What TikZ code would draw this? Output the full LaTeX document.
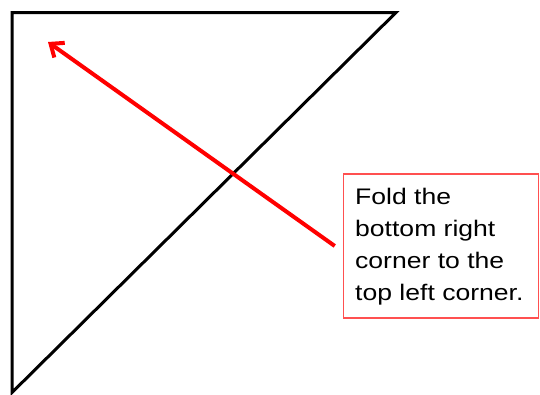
\documentclass[tikz,border=0pt]{standalone}
\usepackage{fontspec}
\newfontfamily\notefont[FakeStretch=1.18]{Liberation Sans}
\usetikzlibrary{arrows.meta}
\definecolor{notered}{RGB}{255,80,80}
\tikzset{
  foldline/.style={draw=black,line width=3pt,line join=miter},
  foldarrow/.style={draw=red,line width=4pt,-{Straight Barb[length=11pt,width=18pt,line width=4pt]}},
  notebox/.style={draw=notered,line width=1.5pt,minimum width=195pt,minimum height=144pt,inner sep=0pt},
  notetext/.style={anchor=base west,inner sep=0pt,align=left,font=\notefont\fontsize{22.5}{31.7}\selectfont}
}
\begin{document}
\begin{tikzpicture}[x=1pt,y=-1pt]
  \useasboundingbox (0,0) rectangle (540,394);
  \coordinate (tl) at (12,12.5);
  \coordinate (tr) at (396,12.5);
  \coordinate (bl) at (12,392.5);
  \draw[foldline] (tr) -- (tl) -- (bl) -- cycle;
  \node[notebox] (note) at (441,246) {};
  \node[notetext] (txt) at (355,300) {Fold the\\bottom right\\corner to the\\top left corner.};
  \coordinate (tip) at (48,42);
  \coordinate (tail) at ([xshift=-8pt]note.west);
  \draw[foldarrow] (tail) -- (tip);
\end{tikzpicture}
\end{document}
